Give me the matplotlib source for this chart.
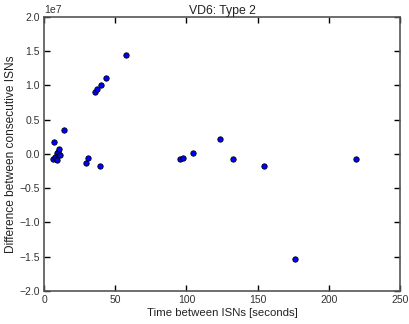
import numpy as np
import matplotlib
matplotlib.use('Agg')
import matplotlib.pyplot as plt

# time between ISNs [s] and difference between consecutive ISNs
time_s = [6.5, 7.0, 7.6, 8.4, 9.0, 9.1, 9.8, 10.5, 11.0, 14.0,
          29.5, 31.0, 35.8, 37.2, 39.3, 40.0, 43.5, 57.6,
          95.5, 97.6, 104.6, 123.6, 132.7, 154.5, 176.3, 219.0]
isn_diff = [-0.7e6, 1.8e6, -0.4e6, -0.7e6, 0.1e6, -0.9e6, 0.3e6, 0.7e6, -0.1e6, 3.5e6,
            -1.3e6, -0.6e6, 9.05e6, 9.5e6, -1.7e6, 10.1e6, 11.1e6, 14.45e6,
            -0.7e6, -0.6e6, 0.2e6, 2.2e6, -0.7e6, -1.7e6, -15.3e6, -0.7e6]

plt.rcParams['font.family'] = ['Liberation Sans', 'DejaVu Sans']
plt.rcParams['axes.unicode_minus'] = True

fig = plt.figure(figsize=(4.09, 3.24), dpi=100)
ax = fig.add_axes([0.1076, 0.102, 0.8704, 0.8455])

ax.scatter(time_s, isn_diff, s=15, c='#0000ff', edgecolors='black', linewidths=0.6, zorder=3)

ax.set_xlim(0, 250)
ax.set_ylim(-2e7, 2e7)
ax.set_xticks(np.arange(0, 251, 50))
ax.set_yticks(np.arange(-2e7, 2.01e7, 0.5e7))
ax.tick_params(direction='in', top=True, right=True, labelsize=7.5, length=4, width=1,
               colors='black', labelcolor='#333333', pad=3)
ax.yaxis.get_offset_text().set_fontsize(7.5)
ax.yaxis.get_offset_text().set_color('#333333')
for sp in ax.spines.values():
    sp.set_color('#555555')
    sp.set_linewidth(1.2)

ax.set_title('VD6: Type 2', fontsize=8.8, pad=2, color='#222222')
ax.set_xlabel('Time between ISNs [seconds]', fontsize=8.2, labelpad=2, color='#222222')
ax.set_ylabel('Difference between consecutive ISNs', fontsize=8.6, labelpad=2, color='#222222')

fig.savefig('out.png', dpi=100)
